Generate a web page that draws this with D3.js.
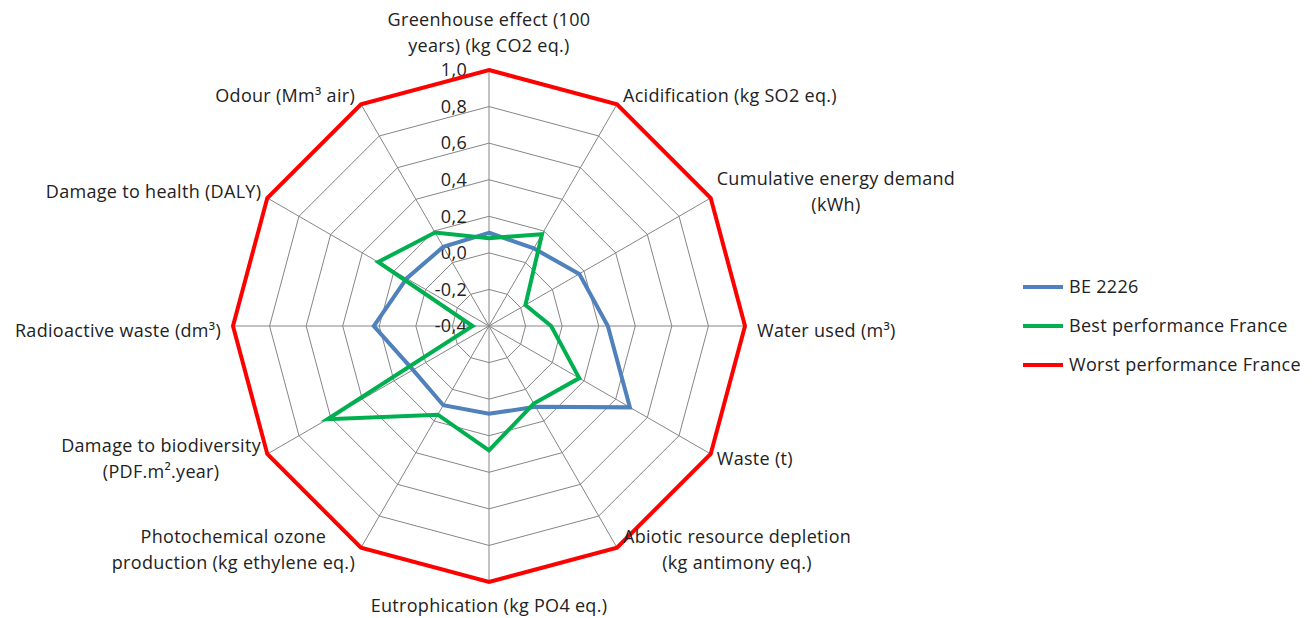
<!DOCTYPE html>
<html>
<head>
<meta charset="utf-8">
<script src="https://cdn.jsdelivr.net/npm/d3@7/dist/d3.min.js"></script>
<style>
  html, body { margin: 0; padding: 0; background: #ffffff; }
  svg text { font-family: "Open Sans", Lato, sans-serif; fill: #222222; letter-spacing: 0.3px; }
</style>
</head>
<body>
<svg id="chart" width="1315" height="618"></svg>
<script>
// Impact categories, clockwise from the top
const categories = [
  "Greenhouse effect (100\nyears) (kg CO2 eq.)",
  "Acidification (kg SO2 eq.)",
  "Cumulative energy demand\n(kWh)",
  "Water used (m³)",
  "Waste (t)",
  "Abiotic resource depletion\n(kg antimony  eq.)",
  "Eutrophication (kg PO4 eq.)",
  "Photochemical ozone\nproduction (kg ethylene eq.)",
  "Damage to biodiversity\n(PDF.m².year)",
  "Radioactive waste  (dm³)",
  "Damage to health  (DALY)",
  "Odour (Mm³ air)"
];

// Normalised scores per category
const be2226 = [0.11, 0.09, 0.17, 0.25, 0.49, 0.11, 0.08, 0.10, 0.08, 0.23, 0.12, 0.10];
const bestFrance = [0.08, 0.18, -0.17, -0.06, 0.17, 0.09, 0.28, 0.16, 0.62, -0.31, 0.30, 0.19];
const worstFrance = [1.0, 1.0, 1.0, 1.0, 1.0, 1.0, 1.0, 1.0, 1.0, 1.0, 1.0, 1.0];

const seriesNames = ["BE 2226", "Best performance France", "Worst performance France"];
const seriesColors = ["#4F81BD", "#00B050", "#FF0000"];

// Radial axis ticks
const tickValues = [-0.4, -0.2, 0.0, 0.2, 0.4, 0.6, 0.8, 1.0];

const series = [be2226, bestFrance, worstFrance];

const svg = d3.select("#chart");
const cx = 489, cy = 326, R = 256;
const n = categories.length;
const fontSize = 18;

const r = d3.scaleLinear().domain([-0.4, 1.0]).range([0, R]);
const angle = d3.scaleLinear().domain([0, n]).range([0, 2 * Math.PI]);

const g = svg.append("g").attr("transform", `translate(${cx},${cy})`);

// Grid rings (polygons)
const ringLine = d3.lineRadial()
  .angle((d, i) => angle(i))
  .radius(d => r(d))
  .curve(d3.curveLinearClosed);

g.append("g").selectAll("path")
  .data(tickValues.slice(1))
  .join("path")
  .attr("d", v => ringLine(d3.range(n).map(() => v)))
  .attr("fill", "none")
  .attr("stroke", "#868686")
  .attr("stroke-width", 1);

// Spokes
g.append("g").selectAll("line")
  .data(d3.range(n))
  .join("line")
  .attr("x1", 0).attr("y1", 0)
  .attr("x2", i => R * Math.sin(angle(i)))
  .attr("y2", i => -R * Math.cos(angle(i)))
  .attr("stroke", "#868686")
  .attr("stroke-width", 1);

// Tick labels along the top spoke
const fmt = v => d3.format(".1f")(v).replace("−", "-").replace(".", ",");
g.append("g").selectAll("text")
  .data(tickValues)
  .join("text")
  .attr("x", -22)
  .attr("y", v => -r(v))
  .attr("dy", "0.35em")
  .attr("text-anchor", "end")
  .attr("font-size", fontSize)
  .text(fmt);

// Series polygons
const seriesLine = d3.lineRadial()
  .angle((d, i) => angle(i))
  .radius(d => r(d))
  .curve(d3.curveLinearClosed);

g.append("g").selectAll("path")
  .data(series)
  .join("path")
  .attr("d", d => seriesLine(d))
  .attr("fill", "none")
  .attr("stroke", (d, i) => seriesColors[i])
  .attr("stroke-width", 4)
  .attr("stroke-linejoin", "miter");

// Category labels
const lineH = 26;
const labels = g.append("g");
categories.forEach((label, i) => {
  const a = angle(i);
  const s = Math.sin(a), c = Math.cos(a);
  const lines = label.split("\n");
  const t = labels.append("text").attr("font-size", fontSize).attr("text-anchor", "middle");
  lines.forEach((ln, k) => {
    t.append("tspan").attr("x", 0).attr("dy", k === 0 ? 0 : lineH).text(ln);
  });
  const w = t.node().getBBox().width;
  const blockH = (lines.length - 1) * lineH;
  const px = R * s, py = -R * c;
  let x, y;
  if (Math.abs(s) < 1e-6) {
    x = px;
    y = c > 0 ? py - 18 - blockH : py + 30;
  } else {
    const pad = Math.abs(c) < 1e-6 ? 12 : 6;
    x = s > 0 ? px + pad + w / 2 : px - pad - w / 2;
    const shift = c > 0.6 ? -8 : (c > 0.1 ? -6 : (c < -0.6 ? 2 : 5));
    y = py + shift - blockH / 2 + 6;
  }
  t.attr("transform", `translate(${x},${y})`);
});

// Legend
const legend = svg.append("g").attr("transform", "translate(1023,287)");
seriesNames.forEach((name, i) => {
  const row = legend.append("g").attr("transform", `translate(0,${i * 39})`);
  row.append("line")
    .attr("x1", 0).attr("x2", 40).attr("y1", 0).attr("y2", 0)
    .attr("stroke", seriesColors[i]).attr("stroke-width", 4);
  row.append("text")
    .attr("x", 46).attr("y", 0).attr("dy", "0.35em")
    .attr("font-size", fontSize)
    .text(name);
});
</script>
</body>
</html>
